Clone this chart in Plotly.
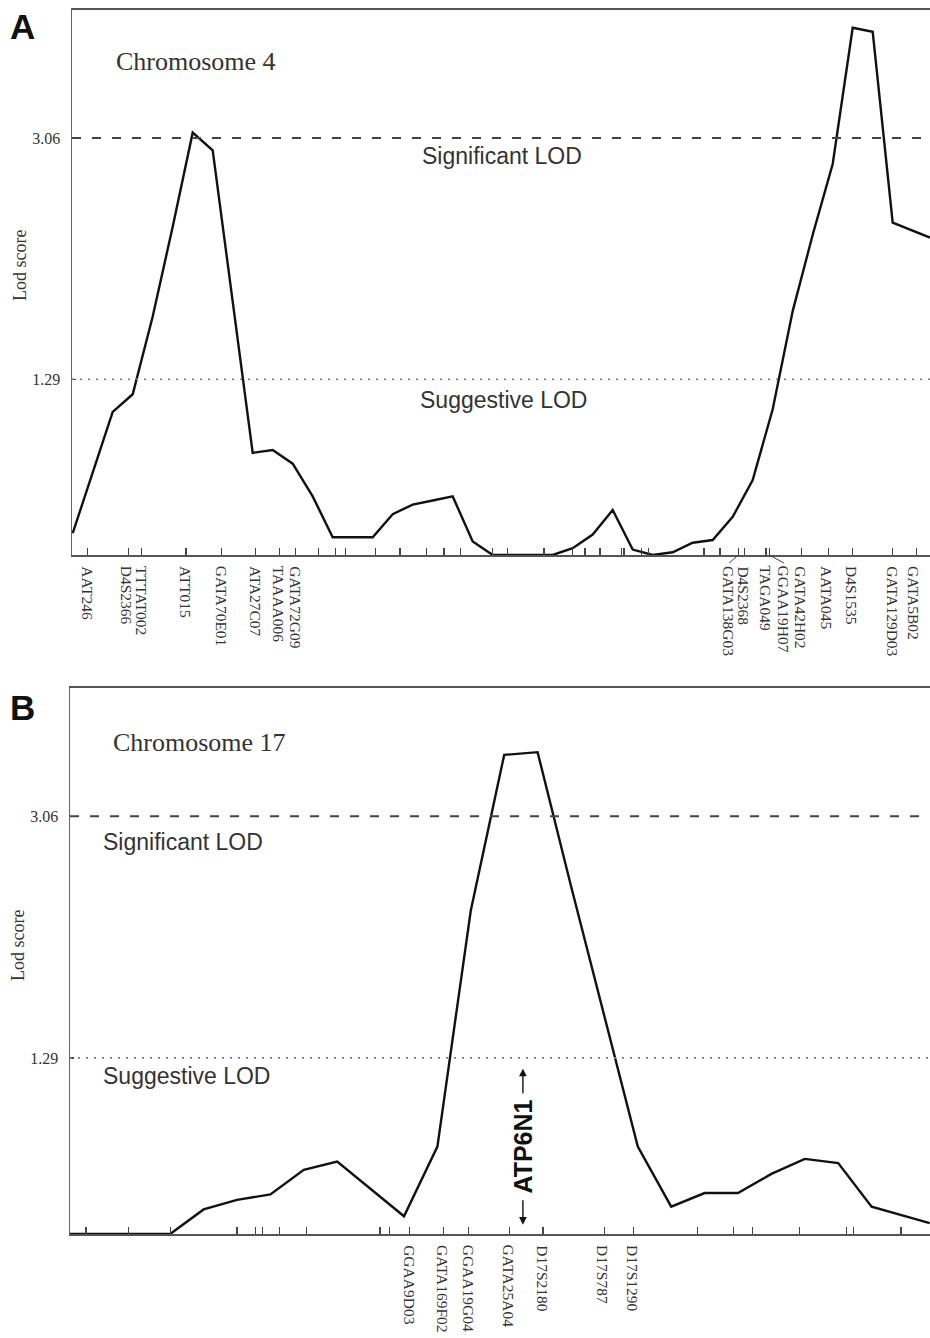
import plotly.graph_objects as go

W, H = 930, 1338

# ---------------- Panel A: chromosome 4 ----------------
chr4_pos = [0, 10, 15, 20, 25, 30, 35, 40, 45, 50, 55, 60, 65, 70, 75, 80, 85, 90, 95, 100,
            105, 120, 125, 130, 135, 140, 145, 150, 155, 160, 165, 170, 175, 180, 185, 190,
            195, 200, 205, 214.3]
chr4_lod = [0.16, 1.05, 1.18, 1.75, 2.41, 3.10, 2.97, 1.86, 0.75, 0.77, 0.67, 0.43, 0.13, 0.13,
            0.13, 0.30, 0.37, 0.40, 0.43, 0.10, 0.0, 0.0, 0.05, 0.15, 0.33, 0.04, 0.0, 0.02,
            0.09, 0.11, 0.28, 0.55, 1.07, 1.79, 2.35, 2.87, 3.87, 3.84, 2.44, 2.33]
chr4_ticks = [3.75, 13.9, 17.25, 28.3, 37.25, 45.8, 51.8, 55.6, 61.4, 65.8, 68.1, 75.8, 81.8,
              88.5, 92.8, 97.0, 105.0, 108.65, 117.8, 125.0, 128.1, 131.8, 137.25, 137.8,
              142.25, 143.9, 157.8, 161.8, 166.4, 167.9, 173.3, 174.15, 182.25, 188.9,
              195.0, 205.0, 211.0]
chr4_markers = ["AAT246", "D4S2366", "TTTAT002", "ATT015", "GATA70E01", "ATA27C07",
                "TAAAA006", "GATA72G09", "GATA138G03", "D4S2368", "TAGA049", "GGAA19H07",
                "GATA42H02", "AATA045", "D4S1535", "GATA129D03", "GATA5B02"]
chr4_marker_pos = [3.75, 13.9, 17.25, 28.3, 37.25, 45.8, 51.8, 55.6, 166.4, 167.9, 173.3,
                   174.15, 182.25, 188.9, 195.0, 205.0, 211.0]
chr4_label_pos = [3.75, 13.5, 17.2, 28.3, 37.25, 45.8, 51.5, 55.65, 164.1, 167.6, 173.3,
                  177.8, 182.0, 188.6, 194.7, 205.0, 210.3]

# ---------------- Panel B: chromosome 17 ----------------
chr17_pos = [0, 15, 20, 25, 30, 35, 40, 50, 55, 60, 65, 70, 75, 80, 85, 90, 95, 100, 105,
             110, 115, 120, 128.7]
chr17_lod = [0, 0, 0.18, 0.25, 0.29, 0.47, 0.53, 0.13, 0.64, 2.37, 3.51, 3.53, 2.55, 1.60,
             0.64, 0.20, 0.30, 0.30, 0.44, 0.55, 0.52, 0.20, 0.08]
chr17_ticks = [2.4, 8.7, 15.1, 25.0, 27.8, 28.85, 31.4, 35.4, 46.3, 46.5, 47.8, 50.8, 55.9,
               59.6, 65.8, 70.8, 80.0, 84.3, 93.9, 99.3, 102.2, 109.2, 116.2, 117.25, 124.4]
chr17_markers = ["GGAA9D03", "GATA169F02", "GGAA19G04", "GATA25A04", "D17S2180",
                 "D17S787", "D17S1290"]
chr17_marker_pos = [50.8, 55.9, 59.6, 65.8, 70.8, 80.0, 84.3]
chr17_label_pos = [50.8, 55.75, 59.7, 65.7, 70.7, 79.7, 84.2]

gene_name = "ATP6N1"
gene_pos = 67.8
gene_lod = 0.64

significant_lod = 3.06
suggestive_lod = 1.29
ytick_vals = [1.29, 3.06]
ytick_text = ["1.29", "3.06"]

SERIF = "Liberation Serif, Times New Roman, serif"
SANS = "Liberation Sans, Arial, sans-serif"


def px_x(px):
    return px / W


def px_y(py):
    return 1 - py / H


# panel pixel frames: (left, top, bottom)
frameA = (72, 10, 555)
frameB = (70, 688, 1234)
right_px = W

# x scales (pixels per cM) so that the visible span matches the reference
A_ppc, A_x0 = 4.0, 72.7
B_ppc, B_x0 = 6.68, 70.0
A_range = [(frameA[0] - A_x0) / A_ppc, (right_px - A_x0) / A_ppc]
B_range = [(frameB[0] - B_x0) / B_ppc, (right_px - B_x0) / B_ppc]

fig = go.Figure()

fig.add_trace(go.Scatter(x=chr4_pos, y=chr4_lod, mode="lines",
                         line=dict(color="#111111", width=2.4),
                         xaxis="x", yaxis="y", showlegend=False, hoverinfo="skip"))
fig.add_trace(go.Scatter(x=chr17_pos, y=chr17_lod, mode="lines",
                         line=dict(color="#111111", width=2.4),
                         xaxis="x2", yaxis="y2", showlegend=False, hoverinfo="skip"))


def xaxis_cfg(frame, rng, ticks):
    return dict(domain=[px_x(frame[0]), 1.0], range=rng, showgrid=False, zeroline=False,
                showline=True, linecolor="#555555", linewidth=1.6, mirror=True,
                ticks="inside", ticklen=7, tickwidth=1.2, tickcolor="#444444",
                tickvals=ticks, ticktext=[""] * len(ticks), fixedrange=True)


def yaxis_cfg(frame, anchor):
    return dict(domain=[px_y(frame[2]), px_y(frame[1])], range=[0, 4.0], showgrid=False,
                zeroline=False, showline=True, linecolor="#666666", linewidth=1.5,
                mirror=False,
                ticks="inside", ticklen=4, tickwidth=1.2, tickcolor="#444444",
                tickvals=ytick_vals, ticktext=ytick_text, ticklabelstandoff=7,
                tickfont=dict(family=SERIF, size=16, color="#333333"), anchor=anchor,
                fixedrange=True)


fig.update_layout(
    width=W, height=H, margin=dict(l=0, r=0, t=0, b=0),
    paper_bgcolor="white", plot_bgcolor="white",
    xaxis=dict(anchor="y", **xaxis_cfg(frameA, A_range, chr4_ticks)),
    yaxis=yaxis_cfg(frameA, "x"),
    xaxis2=dict(anchor="y2", **xaxis_cfg(frameB, B_range, chr17_ticks)),
    yaxis2=yaxis_cfg(frameB, "x2"),
)

shapes = []
for xr, yr in (("x", "y"), ("x2", "y2")):
    shapes.append(dict(type="line", xref=xr + " domain", yref=yr, x0=0, x1=1,
                       y0=significant_lod, y1=significant_lod,
                       line=dict(color="#444444", width=2, dash="9px,11px")))
    shapes.append(dict(type="line", xref=xr + " domain", yref=yr, x0=0, x1=1,
                       y0=suggestive_lod, y1=suggestive_lod,
                       line=dict(color="#7a7a7a", width=1.6, dash="2px,6px")))

annotations = []


def marker_labels(names, mpos, lpos, xref, frame):
    for name, mp, lp in zip(names, mpos, lpos):
        annotations.append(dict(text=name, x=lp, xref=xref, y=px_y(frame[2]), yref="paper",
                                yshift=-9, xanchor="center", yanchor="top", textangle=90,
                                showarrow=False,
                                font=dict(family=SERIF, size=15.5, color="#333333")))
        if abs(lp - mp) > 1.0:
            shapes.append(dict(type="line", xref=xref, yref="paper", x0=mp, x1=lp,
                               y0=px_y(frame[2]), y1=px_y(frame[2] + 8),
                               line=dict(color="#444444", width=1)))


marker_labels(chr4_markers, chr4_marker_pos, chr4_label_pos, "x", frameA)
marker_labels(chr17_markers, chr17_marker_pos, chr17_label_pos, "x2", frameB)


def text(t, x, y, size, family, xanchor="left", angle=0, color="#333333"):
    annotations.append(dict(text=t, x=px_x(x), y=px_y(y), xref="paper", yref="paper",
                            xanchor=xanchor, yanchor="middle", textangle=angle,
                            showarrow=False, font=dict(family=family, size=size, color=color)))


# panel letters
text("<b>A</b>", 8, 27, 35, SANS, color="#111111")
text("<b>B</b>", 8, 707, 35, SANS, color="#111111")
# chromosome titles
text("Chromosome 4", 114, 62, 26, SERIF)
text("Chromosome 17", 111, 742, 26, SERIF)
# threshold labels
text("Significant LOD", 502, 156, 23, SANS, xanchor="center")
text("Suggestive LOD", 503, 400, 23, SANS, xanchor="center")
text("Significant LOD", 101, 842, 23, SANS)
text("Suggestive LOD", 101, 1076, 23, SANS)
# y-axis titles
text("Lod score", 20, 266, 18, SERIF, xanchor="center", angle=-90)
text("Lod score", 18, 946, 18, SERIF, xanchor="center", angle=-90)

# gene marker: bold name with thin arrows above and below
annotations.append(dict(text="<b>" + gene_name + "</b>", x=gene_pos, y=gene_lod,
                        xref="x2", yref="y2", xanchor="center", yanchor="middle",
                        textangle=-90, showarrow=False,
                        font=dict(family=SANS, size=25, color="#111111")))
annotations.append(dict(text="", x=gene_pos, y=gene_lod, xref="x2", yref="y2",
                        yshift=78, showarrow=True, arrowhead=2, arrowsize=1.1,
                        arrowwidth=1.4, arrowcolor="#111111", ax=0, ay=26))
annotations.append(dict(text="", x=gene_pos, y=gene_lod, xref="x2", yref="y2",
                        yshift=-78, showarrow=True, arrowhead=2, arrowsize=1.1,
                        arrowwidth=1.4, arrowcolor="#111111", ax=0, ay=-26))

fig.update_layout(shapes=shapes, annotations=annotations)

# remove the default page margin so the figure sits at the window's top-left corner
fig.write_html("out.html",
               config={"displayModeBar": False, "staticPlot": True},
               post_script="document.body.style.margin='0';"
                           "document.body.style.overflow='hidden';")
